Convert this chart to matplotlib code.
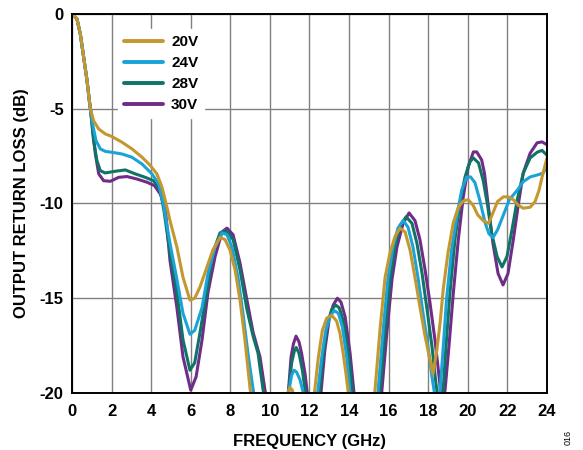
import matplotlib
matplotlib.use("Agg")
import matplotlib.pyplot as plt

plt.rcParams['font.family'] = ['Liberation Sans', 'DejaVu Sans']
plt.rcParams['axes.unicode_minus'] = False

#================================================================================
# output return loss vs frequency, one trace per supply voltage
#================================================================================
LOW = -23  # points below the axis floor, clipped by the axes

freq_20v = [0, 0.25, 0.42, 0.59, 0.76, 0.875, 0.93, 1.09, 1.35, 1.68, 2.02, 2.53, 3.03, 3.54, 3.96, 4.29, 4.55,
            4.8, 4.95, 5.3, 5.61, 5.96, 6.2, 6.47, 6.82, 7.12, 7.48, 7.73, 7.98, 8.24, 8.49, 8.74, 9.0, 9.05, 9.3,
            10.75, 10.9, 11.02, 11.13, 11.17, 11.3,
            12.1, 12.25, 12.45, 12.65, 12.87, 13.12, 13.37, 13.54, 13.7, 13.84, 13.96, 14.1,
            15.1, 15.31, 15.56, 15.82, 16.07, 16.32, 16.57, 16.83, 17.08, 17.33, 17.58, 17.84, 18.09, 18.24,
            18.44, 18.6, 18.76, 19.0, 19.27, 19.52, 19.77, 20.02, 20.27, 20.5, 20.77, 21.05, 21.27, 21.5,
            21.8, 22.05, 22.3, 22.56, 22.8, 23.15, 23.4, 23.6, 23.8, 24.0]
rl_20v = [0, -0.26, -1.06, -2.29, -3.52, -4.57, -5.0, -5.63, -6.07, -6.33, -6.47, -6.77, -7.12, -7.56, -8.0, -8.44, -9.15,
          -10.2, -10.9, -12.3, -13.9, -15.1, -15.0, -14.4, -13.35, -12.45, -11.8, -11.9, -12.45, -13.5, -15.1, -17.2, -19.8, -20.1, LOW,
          LOW, -20.0, -19.7, -19.85, -20.0, LOW,
          LOW, -20.0, -18.1, -16.7, -16.05, -15.9, -16.2, -16.85, -17.9, -18.95, -20.0, LOW,
          LOW, -19.85, -16.7, -13.9, -12.6, -11.75, -11.3, -11.5, -12.45, -13.9, -15.45, -17.0, -18.25, -19.0,
          -17.7, -16.3, -14.5, -12.6, -11.0, -10.2, -9.87, -9.8, -10.1, -10.6, -10.9, -11.05, -10.5, -9.9,
          -9.65, -9.65, -9.8, -10.1, -10.25, -10.2, -9.9, -9.3, -8.4, -7.6]

freq_24v = [0, 0.25, 0.42, 0.59, 0.76, 0.875, 0.93, 1.04, 1.21, 1.43, 1.68, 2.02, 2.53, 3.03, 3.54, 4.04, 4.38, 4.63,
            4.95, 5.3, 5.61, 5.96, 6.2, 6.57, 6.87, 7.23, 7.58, 7.83, 8.08, 8.39, 8.64, 8.89, 9.15, 9.2, 9.45,
            10.8, 10.94, 11.1, 11.22, 11.35, 11.52, 11.69, 11.85,
            12.25, 12.41, 12.62, 12.82, 13.04, 13.25, 13.46, 13.66, 13.88, 14.05, 14.2,
            15.3, 15.47, 15.72, 15.97, 16.22, 16.47, 16.73, 16.98, 17.23, 17.48, 17.74, 17.99, 18.19, 18.3,
            18.4, 18.55, 18.6, 18.75, 18.93, 19.18, 19.44, 19.69, 19.94, 20.14, 20.36, 20.6, 20.87, 21.07,
            21.27, 21.5, 21.8, 22.1, 22.5, 22.8, 23.15, 23.5, 23.8, 24.0]
rl_24v = [0, -0.26, -1.06, -2.29, -3.52, -4.57, -5.0, -5.8, -6.68, -7.12, -7.25, -7.3, -7.39, -7.56, -7.92, -8.44, -8.97, -10.1,
          -12.1, -14.0, -15.8, -16.9, -16.7, -15.5, -13.7, -12.3, -11.55, -11.65, -12.3, -13.9, -15.8, -17.9, -19.8, -20.1, LOW,
          LOW, -20.0, -19.05, -18.8, -18.9, -19.3, -20.0, LOW,
          LOW, -20.0, -18.1, -16.7, -15.97, -15.65, -15.8, -16.5, -18.1, -20.0, LOW,
          LOW, -19.85, -16.7, -13.9, -12.3, -11.3, -10.9, -11.25, -12.3, -13.9, -15.8, -17.55, -19.15, -19.9,
          -20.4, -20.2, -19.85, -17.7, -15.0, -12.45, -10.7, -9.3, -8.6, -8.6, -8.9, -9.8, -11.0, -11.6,
          -11.8, -11.4, -10.6, -9.8, -9.3, -8.85, -8.6, -8.5, -8.4, -8.05]

freq_28v = [0, 0.25, 0.42, 0.59, 0.76, 0.875, 0.93, 1.09, 1.26, 1.43, 1.68, 2.19, 2.69, 3.2, 3.7, 4.12, 4.46, 4.65,
            4.95, 5.3, 5.61, 5.96, 6.2, 6.47, 6.82, 7.12, 7.48, 7.83, 8.14, 8.49, 8.84, 9.15, 9.4, 9.65, 9.7, 9.95,
            10.8, 10.94, 11.1, 11.23, 11.33, 11.47, 11.64, 11.8, 11.95,
            12.35, 12.5, 12.7, 12.92, 13.12, 13.32, 13.5, 13.7, 13.96, 14.17, 14.3,
            15.4, 15.56, 15.82, 16.07, 16.32, 16.57, 16.88, 17.18, 17.43, 17.69, 17.94, 18.19, 18.39,
            18.5, 18.65, 18.75, 18.9, 19.1, 19.35, 19.6, 19.86, 20.1, 20.28, 20.54, 20.78, 21.0, 21.2,
            21.48, 21.73, 21.98, 22.23, 22.5, 22.8, 23.15, 23.5, 23.75, 24.0]
rl_28v = [0, -0.26, -1.06, -2.29, -3.52, -4.57, -5.0, -6.68, -7.74, -8.27, -8.39, -8.3, -8.23, -8.44, -8.62, -8.8, -9.32, -10.4,
          -12.6, -14.7, -17.2, -18.8, -18.4, -16.8, -14.6, -12.6, -11.55, -11.45, -11.9, -13.5, -15.6, -17.0, -17.9, -19.8, -20.1, LOW,
          LOW, -20.0, -18.4, -17.8, -17.6, -17.9, -18.8, -20.0, LOW,
          LOW, -20.0, -17.9, -16.3, -15.6, -15.36, -15.5, -16.15, -17.9, -20.0, LOW,
          LOW, -19.85, -16.7, -14.0, -12.3, -11.2, -10.7, -11.05, -12.1, -13.7, -15.6, -17.55, -19.5,
          -20.3, -20.4, -19.9, -17.5, -14.7, -11.9, -10.0, -8.6, -7.8, -7.6, -7.86, -8.8, -10.1, -11.55,
          -12.8, -13.35, -12.8, -11.4, -9.8, -8.4, -7.6, -7.3, -7.2, -7.45]

freq_30v = [0, 0.25, 0.42, 0.59, 0.76, 0.875, 0.93, 1.18, 1.35, 1.6, 1.94, 2.36, 2.78, 3.28, 3.79, 4.17, 4.46, 4.71,
            4.95, 5.3, 5.61, 6.0, 6.27, 6.57, 6.87, 7.23, 7.58, 7.83, 8.14, 8.49, 8.84, 9.15, 9.5, 9.75, 9.8, 10.05,
            10.8, 10.93, 11.07, 11.19, 11.32, 11.47, 11.6, 11.77, 11.89, 12.05,
            12.45, 12.58, 12.78, 12.99, 13.2, 13.41, 13.59, 13.8, 14.05, 14.25, 14.4,
            15.5, 15.66, 15.92, 16.17, 16.42, 16.73, 17.03, 17.33, 17.58, 17.84, 18.09, 18.34, 18.55,
            18.65, 18.75, 18.85, 19.05, 19.27, 19.52, 19.77, 20.02, 20.28, 20.45, 20.7, 20.84, 21.02, 21.27,
            21.53, 21.78, 22.03, 22.3, 22.56, 22.8, 23.15, 23.5, 23.75, 24.0]
rl_30v = [0, -0.26, -1.06, -2.29, -3.52, -4.57, -5.0, -7.39, -8.44, -8.8, -8.83, -8.62, -8.58, -8.71, -8.88, -9.06, -9.5, -10.2,
          -13.0, -15.5, -18.1, -19.85, -19.15, -17.2, -14.7, -12.8, -11.5, -11.3, -11.65, -13.15, -15.1, -16.8, -18.1, -19.85, -20.1, LOW,
          LOW, -20.0, -18.1, -17.4, -17.0, -17.3, -17.9, -18.95, -20.0, LOW,
          LOW, -20.0, -17.7, -16.15, -15.36, -15.0, -15.2, -15.97, -17.9, -20.0, LOW,
          LOW, -19.85, -16.7, -14.0, -12.3, -11.05, -10.5, -10.9, -11.9, -13.5, -15.25, -17.2, -19.15,
          -20.2, -20.4, -19.85, -17.5, -14.7, -11.9, -9.65, -8.07, -7.28, -7.28, -7.7, -8.4, -10.0, -12.1,
          -13.7, -14.3, -13.7, -11.9, -10.0, -8.4, -7.35, -6.8, -6.75, -6.9]

labels = ['20V', '24V', '28V', '30V']
colors = ['#C4982F', '#1BA3D8', '#0F7466', '#6F2C88']

x_ticks = list(range(0, 25, 2))
y_ticks = [0, -5, -10, -15, -20]

fig = plt.figure(figsize=(5.83, 4.5), dpi=100)
ax = fig.add_axes([0.1235, 0.1267, 0.8147, 0.8423])

series = [(freq_20v, rl_20v), (freq_24v, rl_24v), (freq_28v, rl_28v), (freq_30v, rl_30v)]
# draw 30V first so the lower voltages sit on top
for (f, rl), lab, col in reversed(list(zip(series, labels, colors))):
    ax.plot(f, rl, color=col, lw=2.2, label=lab, solid_joinstyle='round', solid_capstyle='round')

ax.set_xlim(0, 24)
ax.set_ylim(-20, 0)
ax.set_xticks(x_ticks)
ax.set_yticks(y_ticks)
ax.grid(True, color='#808080', lw=1.0)
ax.set_axisbelow(True)
ax.tick_params(length=0, labelsize=12)
ax.tick_params(axis='x', pad=8)
ax.tick_params(axis='y', pad=6)
for t in ax.get_xticklabels() + ax.get_yticklabels():
    t.set_fontweight('bold')
for s in ax.spines.values():
    s.set_linewidth(1.4)

ax.set_xlabel('FREQUENCY (GHz)', fontsize=12, fontweight='bold', labelpad=11)
ax.set_ylabel('OUTPUT RETURN LOSS (dB)', fontsize=12, fontweight='bold', labelpad=8)

handles, labs = ax.get_legend_handles_labels()
leg = ax.legend(handles[::-1], labs[::-1], loc='upper left', bbox_to_anchor=(0.08, 0.98),
                frameon=True, fancybox=False, framealpha=1, edgecolor='white',
                prop={'weight': 'bold', 'size': 11}, handlelength=2.6, labelspacing=0.46,
                handletextpad=0.5, borderpad=0.4)
for line in leg.get_lines():
    line.set_linewidth(2.8)

fig.text(0.975, 0.012, '016', rotation=90, fontsize=6.5, ha='center', va='bottom')

plt.savefig('out.png', dpi=100)
